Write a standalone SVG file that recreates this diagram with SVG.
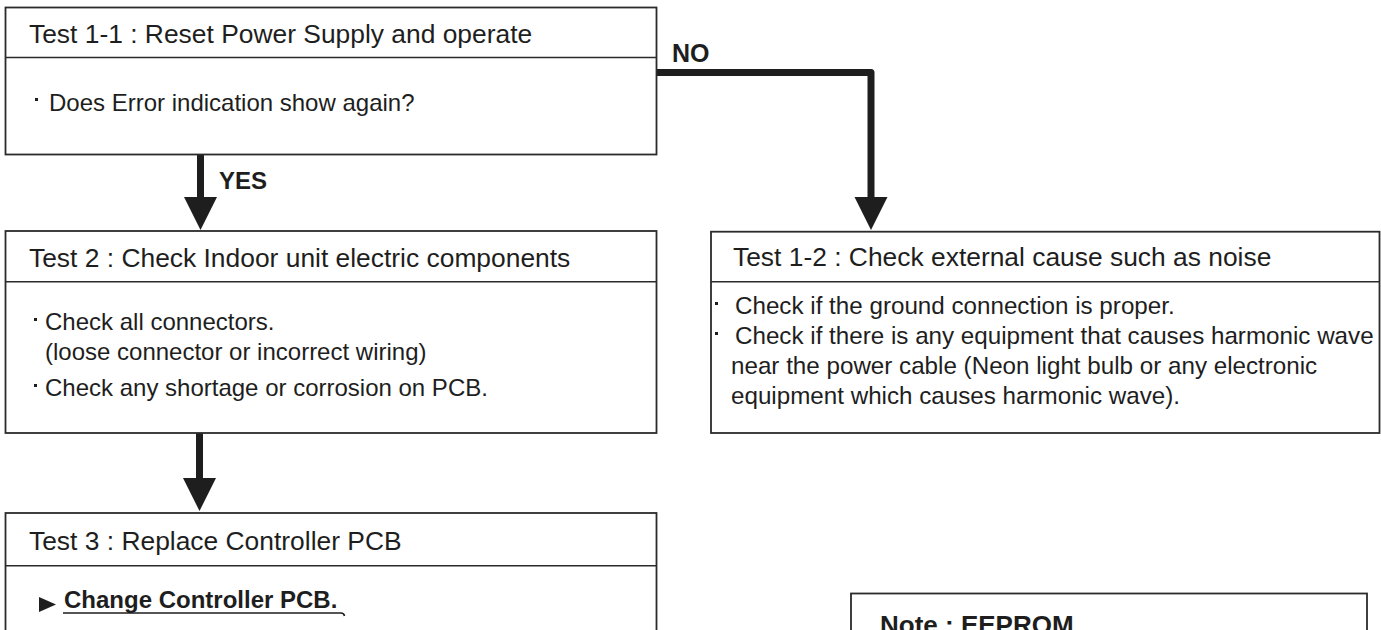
<svg xmlns="http://www.w3.org/2000/svg" width="1381" height="630" viewBox="0 0 1381 630">
<defs>
<style>
.box{fill:#fff;stroke:#2b2b2b;stroke-width:1.8}
.div{stroke:#2b2b2b;stroke-width:1.6}
.t{font-family:"Liberation Sans",Arial,sans-serif;fill:#1e1e1e}
.title{font-size:26.4px}
.body{font-size:24px}
.body2{font-size:24.2px}
.bold{font-weight:bold}
.bul{fill:#1e1e1e}
.conn{fill:none;stroke:#1e1e1e;stroke-width:7;stroke-linejoin:round}
</style>
<marker id="ah" markerUnits="userSpaceOnUse" markerWidth="34" markerHeight="34" viewBox="0 -17 34 34" refX="1" refY="0" orient="auto">
<path d="M0,-16.5 L33,0 L0,16.5 z" fill="#1e1e1e"/>
</marker>
</defs>
<rect width="1381" height="630" fill="#fff"/>

<g id="connectors">
<line class="conn" x1="200.5" y1="155" x2="200.5" y2="198" marker-end="url(#ah)"/>
<path class="conn" d="M657,72.5 H871 V198" marker-end="url(#ah)"/>
<line class="conn" x1="199.5" y1="433" x2="199.5" y2="479" marker-end="url(#ah)"/>
<text class="t bold" x="672" y="62" font-size="25">NO</text>
<text class="t bold" x="219" y="189" font-size="24">YES</text>
</g>

<g id="test1-1">
<rect class="box" x="5.5" y="7.5" width="651" height="147"/>
<line class="div" x1="5.5" y1="57.5" x2="656.5" y2="57.5"/>
<text class="t title" x="29" y="43">Test 1-1 : Reset Power Supply and operate</text>
<rect class="bul" x="35" y="98" width="3" height="3"/>
<text class="t body" x="49" y="111">Does Error indication show again?</text>
</g>

<g id="test2">
<rect class="box" x="5.5" y="231" width="651" height="202"/>
<line class="div" x1="5.5" y1="281.7" x2="656.5" y2="281.7"/>
<text class="t title" x="29" y="267">Test 2 : Check Indoor unit electric components</text>
<rect class="bul" x="34" y="318" width="3" height="3"/>
<text class="t body" x="45" y="330">Check all connectors.</text>
<text class="t body" x="45" y="360">(loose connector or incorrect wiring)</text>
<rect class="bul" x="34" y="384" width="3" height="3"/>
<text class="t body" x="45" y="396">Check any shortage or corrosion on PCB.</text>
</g>

<g id="test1-2">
<rect class="box" x="711" y="231.7" width="668.5" height="201.3"/>
<line class="div" x1="711" y1="281.7" x2="1379.5" y2="281.7"/>
<text class="t title" x="733" y="266">Test 1-2 : Check external cause such as noise</text>
<rect class="bul" x="715" y="302" width="3" height="3"/>
<text class="t body2" x="735" y="314">Check if the ground connection is proper.</text>
<rect class="bul" x="715" y="332" width="3" height="3"/>
<text class="t body2" x="735" y="344">Check if there is any equipment that causes harmonic wave</text>
<text class="t body2" x="731" y="374">near the power cable (Neon light bulb or any electronic</text>
<text class="t body2" x="731" y="404">equipment which causes harmonic wave).</text>
</g>

<g id="test3">
<rect class="box" x="5.5" y="513" width="651" height="130"/>
<line class="div" x1="5.5" y1="565.7" x2="656.5" y2="565.7"/>
<text class="t title" x="29" y="550">Test 3 : Replace Controller PCB</text>
<path d="M39,597 L56,604.5 L39,612 z" fill="#1e1e1e"/>
<text class="t body bold" x="64" y="608">Change Controller PCB.</text>
<path d="M63,613 H341 Q344,613 344.5,616" fill="none" stroke="#1e1e1e" stroke-width="1.6"/>
</g>

<g id="note">
<rect class="box" x="851" y="593.5" width="516" height="60"/>
<text class="t bold" x="880" y="634" font-size="26">Note : EEPROM</text>
</g>
</svg>
